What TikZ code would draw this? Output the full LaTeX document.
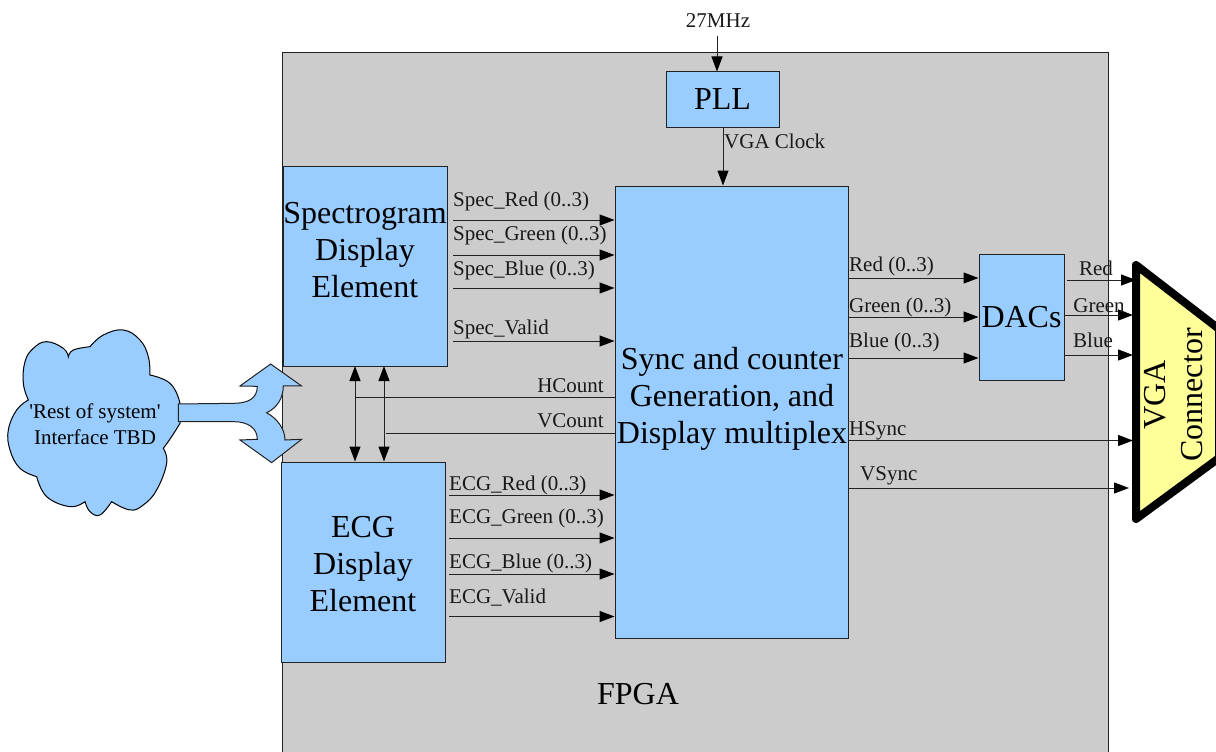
\documentclass[tikz,border=0pt]{standalone}
\usepackage{fontspec}
\setmainfont{Liberation Serif}
\usetikzlibrary{arrows.meta}
\definecolor{fpgagray}{HTML}{CCCCCC}
\definecolor{blockblue}{HTML}{99CCFF}
\definecolor{vgayellow}{HTML}{FFFF99}
\definecolor{linegray}{HTML}{222222}
\tikzset{
  tip/.tip={Triangle[length=15pt,width=11pt,black]},
  blk/.style={draw=linegray,line width=1pt,fill=blockblue,inner sep=0pt,align=center,font=\fontsize{32}{37}\selectfont},
  big/.style={inner sep=0pt,align=center,font=\fontsize{32}{37}\selectfont},
  lbl/.style={inner sep=0pt,anchor=base west,font=\fontsize{21}{26}\selectfont,text=black!90},
  lblc/.style={inner sep=0pt,anchor=base,font=\fontsize{21}{26}\selectfont,text=black!90},
  sig/.style={draw=linegray,line width=1pt,-tip},
  bus/.style={draw=linegray,line width=1pt,tip-tip},
  plain/.style={draw=linegray,line width=1pt}
}
\begin{document}
\begin{tikzpicture}[x=1pt,y=-1pt]
\useasboundingbox (0,0) rectangle (1216,752);
% FPGA
\fill[fpgagray] (282.5,53) rectangle (1108,760);
\draw[linegray,line width=1pt] (282.5,53) rectangle (1108,760);
\node[big] (fpga) at (638,694.5) {FPGA};
% cloud and fork arrow, traced in 3x coordinates
\begin{scope}[shift={(0,320)},x=0.3333pt,y=-0.3333pt]
\draw[draw=black,line width=1pt,fill=blockblue]
  plot[smooth,tension=0.7] coordinates {(450,165) (510,190) (540,250) (540,310)}
  -- plot[smooth,tension=0.7] coordinates {(540,310) (515,350) (490,385)}
  -- plot[smooth,tension=0.7] coordinates {(490,385) (500,430) (470,510) (430,555) (390,570) (335,545)}
  -- plot[smooth,tension=0.7] coordinates {(335,545) (300,585) (270,575) (255,545)}
  -- plot[smooth,tension=0.7] coordinates {(255,545) (210,560) (140,530) (110,470)}
  -- plot[smooth,tension=0.7] coordinates {(110,470) (60,445) (30,390) (25,330) (50,270) (85,240)}
  -- plot[smooth,tension=0.7] coordinates {(85,240) (70,190) (75,125) (100,85) (140,65) (190,85) (205,110)}
  -- plot[smooth,tension=0.7] coordinates {(205,110) (220,90) (270,80)}
  -- plot[smooth,tension=0.7] coordinates {(270,80) (310,45) (370,30) (420,60) (445,110) (450,165)}
  -- cycle;
\draw[draw=linegray,line width=1pt,fill=blockblue,line join=miter]
  (535,252) -- (700,250) .. controls (745,250) and (772,235) .. (772,199)
  -- (720,198) -- (812,132) -- (905,198) -- (850,198)
  .. controls (850,235) and (830,265) .. (800,278)
  .. controls (830,295) and (855,325) .. (855,360)
  -- (905,358) -- (815,428) -- (720,360) -- (772,358)
  .. controls (772,325) and (745,305) .. (700,305)
  -- (535,305) -- cycle;
\end{scope}
\node[inner sep=0pt,align=center,font=\fontsize{21}{26}\selectfont] (cloud) at (95,424) {\textquotesingle Rest of system\textquotesingle\\Interface TBD};
% blocks
\node[blk,minimum width=164pt,minimum height=200pt] (spec) at (365,266) {};
\node[big] (spectext) at (365,250.5) {Spectrogram\\Display\\Element};
\node[blk,minimum width=164pt,minimum height=200pt] (ecg) at (363,562) {};
\node[big] (ecgtext) at (363,564.5) {ECG\\Display\\Element};
\node[blk,minimum width=233pt,minimum height=452pt] (mux) at (731.5,412) {};
\node[big] (muxtext) at (732,398.5) {Sync and counter\\Generation, and\\Display multiplex};
\node[blk,minimum width=113pt,minimum height=55pt] (pll) at (722.5,99.5) {PLL};
\node[blk,minimum width=85pt,minimum height=126pt] (dacs) at (1021.5,317) {DACs};
% VGA connector
\draw[black,line width=8pt,line join=round,fill=vgayellow] (1136,265) -- (1219,329) -- (1219,458) -- (1136,519) -- cycle;
\node[big,rotate=90] (vgatext) at (1174,395) {VGA\\Connector};
% clock
\coordinate (clkin) at (717,36);
\draw[sig] (clkin) -- (clkin |- pll.north);
\node[lblc] (clklbl) at (718,28) {27MHz};
\coordinate (vclk) at (723,127);
\draw[sig] (vclk) -- (vclk |- mux.north);
\node[lbl] (vclklbl) at (724,148) {VGA Clock};
% spectrogram signals
\coordinate (s1) at (453,220); \coordinate (s2) at (453,255);
\coordinate (s3) at (453,288); \coordinate (s4) at (453,341);
\draw[sig] (s1) -- (s1 -| mux.west);
\draw[sig] (s2) -- (s2 -| mux.west);
\draw[sig] (s3) -- (s3 -| mux.west);
\draw[sig] (s4) -- (s4 -| mux.west);
\node[lbl] (sl1) at (453,206) {Spec\_Red (0..3)};
\node[lbl] (sl2) at (453,240) {Spec\_Green (0..3)};
\node[lbl] (sl3) at (453,275) {Spec\_Blue (0..3)};
\node[lbl] (sl4) at (453,334) {Spec\_Valid};
% ECG signals
\coordinate (e1) at (449,495); \coordinate (e2) at (449,538);
\coordinate (e3) at (449,574); \coordinate (e4) at (449,616.5);
\draw[sig] (e1) -- (e1 -| mux.west);
\draw[sig] (e2) -- (e2 -| mux.west);
\draw[sig] (e3) -- (e3 -| mux.west);
\draw[sig] (e4) -- (e4 -| mux.west);
\node[lbl] (el1) at (449,490) {ECG\_Red (0..3)};
\node[lbl] (el2) at (449,523) {ECG\_Green (0..3)};
\node[lbl] (el3) at (449,568) {ECG\_Blue (0..3)};
\node[lbl] (el4) at (449,603) {ECG\_Valid};
% HCount / VCount buses
\coordinate (hb) at (355,366); \coordinate (vb) at (384,366);
\draw[bus] (hb) -- (hb |- ecg.north);
\draw[bus] (vb) -- (vb |- ecg.north);
\coordinate (hc) at (355,397); \coordinate (vc) at (386,433);
\draw[plain] (hc) -- (hc -| mux.west);
\draw[plain] (vc) -- (vc -| mux.west);
\node[lblc,anchor=base east] (hl) at (604,392) {HCount};
\node[lblc,anchor=base east] (vl) at (604,427) {VCount};
% mux outputs
\coordinate (m1) at (849,278); \coordinate (m2) at (849,317); \coordinate (m3) at (849,358);
\draw[sig] (m1) -- (m1 -| dacs.west);
\draw[sig] (m2) -- (m2 -| dacs.west);
\draw[sig] (m3) -- (m3 -| dacs.west);
\node[lbl] (ml1) at (849,271) {Red (0..3)};
\node[lbl] (ml2) at (849,312) {Green (0..3)};
\node[lbl] (ml3) at (849,347) {Blue (0..3)};
\coordinate (hs) at (849,440.5); \coordinate (hse) at (1133,440.5);
\coordinate (vs) at (849,488); \coordinate (vse) at (1129,488);
\draw[sig] (hs) -- (hse);
\draw[sig] (vs) -- (vse);
\node[lbl] (hsl) at (849,435) {HSync};
\node[lbl] (vsl) at (860,480) {VSync};
% DAC outputs
\coordinate (d1) at (1067,280); \coordinate (d1e) at (1136,280);
\coordinate (d2) at (1064,315); \coordinate (d2e) at (1133,315);
\coordinate (d3) at (1064,355); \coordinate (d3e) at (1133,355);
\draw[sig] (d1) -- (d1e);
\draw[sig] (d2) -- (d2e);
\draw[sig] (d3) -- (d3e);
\node[lblc] (dl1) at (1096,275) {Red};
\node[lblc] (dl2) at (1099,312) {Green};
\node[lblc] (dl3) at (1093,347) {Blue};
\end{tikzpicture}
\end{document}
